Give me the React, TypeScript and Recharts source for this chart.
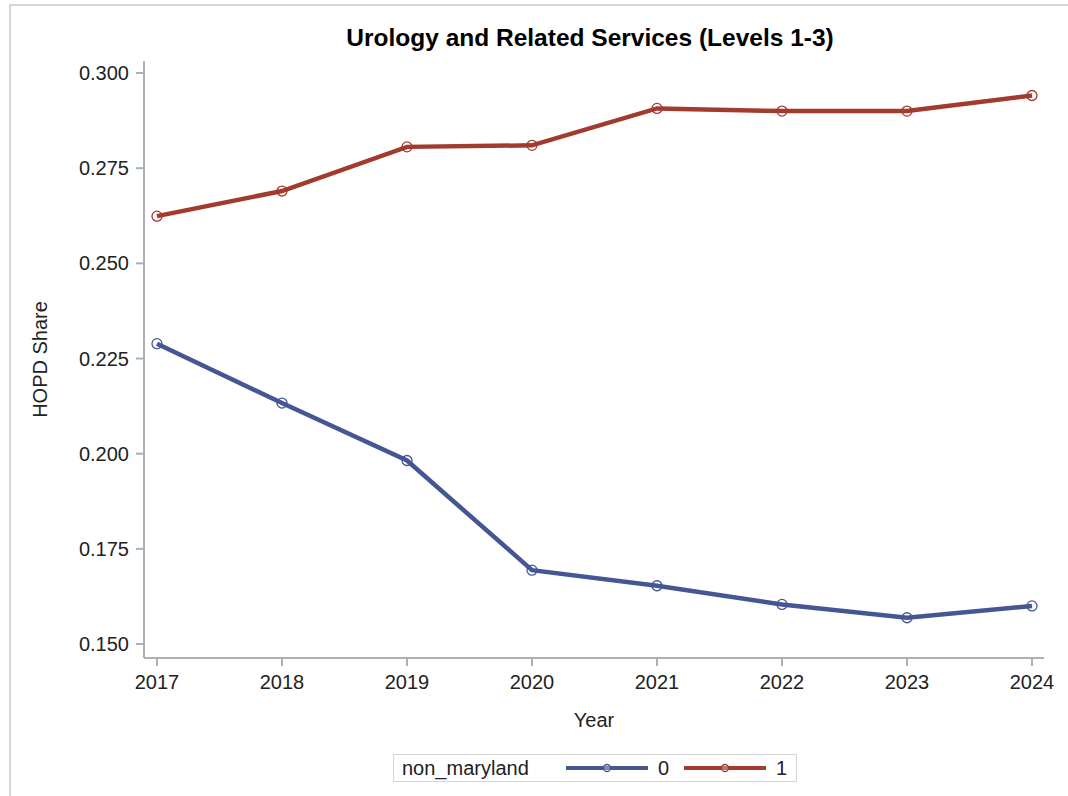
import { LineChart, Line, XAxis, YAxis } from 'recharts'

// values
const years = [2017, 2018, 2019, 2020, 2021, 2022, 2023, 2024]
const nonMaryland0 = [0.2289, 0.2133, 0.1982, 0.1694, 0.1653, 0.1604, 0.1569, 0.16]
const nonMaryland1 = [0.2624, 0.269, 0.2806, 0.281, 0.2907, 0.29, 0.29, 0.2941]
const yTicks = [0.15, 0.175, 0.2, 0.225, 0.25, 0.275, 0.3]

const FONT = '"Liberation Sans", Arial, sans-serif'
const FRAME = '#aab0b6'
const TEXT = '#222'
const BLUE = '#445694'
const RED = '#a23a2e'
const Y_DOMAIN: [number, number] = [0.14632, 0.30316]

const series = [
  { key: 'g0', name: '0', color: BLUE, values: nonMaryland0 },
  { key: 'g1', name: '1', color: RED, values: nonMaryland1 },
]

const data = years.map((year, i) => ({
  year,
  g0: nonMaryland0[i],
  g1: nonMaryland1[i],
}))

function LegendSwatch({ color }: { color: string }) {
  return (
    <svg width={82} height={10} style={{ display: 'block' }}>
      <line x1={0} y1={5} x2={82} y2={5} stroke={color} strokeWidth={4} />
      <circle cx={41} cy={5} r={3.5} fill="#fff" fillOpacity={0.3} stroke={color} strokeWidth={1.3} />
    </svg>
  )
}

export default function App() {
  const tick = { fill: TEXT, fontSize: 20, fontFamily: FONT }
  return (
    <div style={{ position: 'absolute', left: 0, top: 0, width: 1068, height: 796, overflow: 'hidden', background: '#fff', fontFamily: FONT }}>
      <div style={{ position: 'absolute', left: 9, top: 4, width: 1200, height: 1000, borderTop: '2px solid #d6d6d6', borderLeft: '2px solid #d6d6d6' }} />
      <div style={{ position: 'absolute', left: 90, top: 26, width: 1000, textAlign: 'center', fontSize: 24.5, lineHeight: '24px', fontWeight: 'bold', color: '#000' }}>
        Urology and Related Services (Levels 1-3)
      </div>
      <div style={{ position: 'absolute', left: 0, top: 0 }}>
        <LineChart width={1068} height={796} data={data} margin={{ top: 61, right: 24, bottom: 0, left: 0 }}>
          <XAxis
            dataKey="year" type="number" domain={[2017, 2024]} ticks={years}
            padding={{ left: 13, right: 12 }} height={138}
            tick={tick} tickSize={8} tickMargin={9}
            tickLine={{ stroke: FRAME, strokeWidth: 2 }} axisLine={{ stroke: FRAME, strokeWidth: 2 }}
            label={{ value: 'Year', position: 'insideBottom', offset: 69, fill: TEXT, fontSize: 20, fontFamily: FONT }}
          />
          <XAxis
            xAxisId="top" orientation="top" dataKey="year" type="number" domain={[2017, 2024]}
            padding={{ left: 13, right: 12 }} height={0} tick={false} tickLine={false}
            axisLine={{ stroke: FRAME, strokeWidth: 2 }}
          />
          <YAxis
            type="number" domain={Y_DOMAIN} ticks={yTicks} width={144}
            tickFormatter={(v: number) => v.toFixed(3)}
            tick={tick} tickSize={8} tickMargin={7}
            tickLine={{ stroke: FRAME, strokeWidth: 2 }} axisLine={{ stroke: FRAME, strokeWidth: 2 }}
            label={{ value: 'HOPD Share', angle: -90, position: 'insideLeft', offset: 40, fill: TEXT, fontSize: 20, fontFamily: FONT, style: { textAnchor: 'middle' } }}
          />
          <YAxis
            yAxisId="right" orientation="right" type="number" domain={Y_DOMAIN} width={0}
            tick={false} tickLine={false} axisLine={{ stroke: FRAME, strokeWidth: 2 }}
          />
          {series.map(s => (
            <Line
              key={s.key} dataKey={s.key} name={s.name} type="linear"
              stroke={s.color} strokeWidth={4.5}
              dot={{ r: 5, fill: 'none', stroke: s.color, strokeWidth: 1.3 }}
              activeDot={false} isAnimationActive={false}
            />
          ))}
        </LineChart>
      </div>
      <div style={{ position: 'absolute', left: 393, top: 754, width: 402, height: 26, border: '1.5px solid #d4d4d4', fontSize: 20, color: TEXT }}>
        <div style={{ position: 'absolute', left: 8, top: 0, lineHeight: '26px' }}>non_maryland</div>
        {series.map((s, i) => (
          <div key={s.key} style={{ position: 'absolute', left: 172 + i * 118, top: 8 }}>
            <LegendSwatch color={s.color} />
          </div>
        ))}
        {series.map((s, i) => (
          <div key={s.key + 't'} style={{ position: 'absolute', left: 264 + i * 118, top: 0, lineHeight: '26px' }}>{s.name}</div>
        ))}
      </div>
    </div>
  )
}
